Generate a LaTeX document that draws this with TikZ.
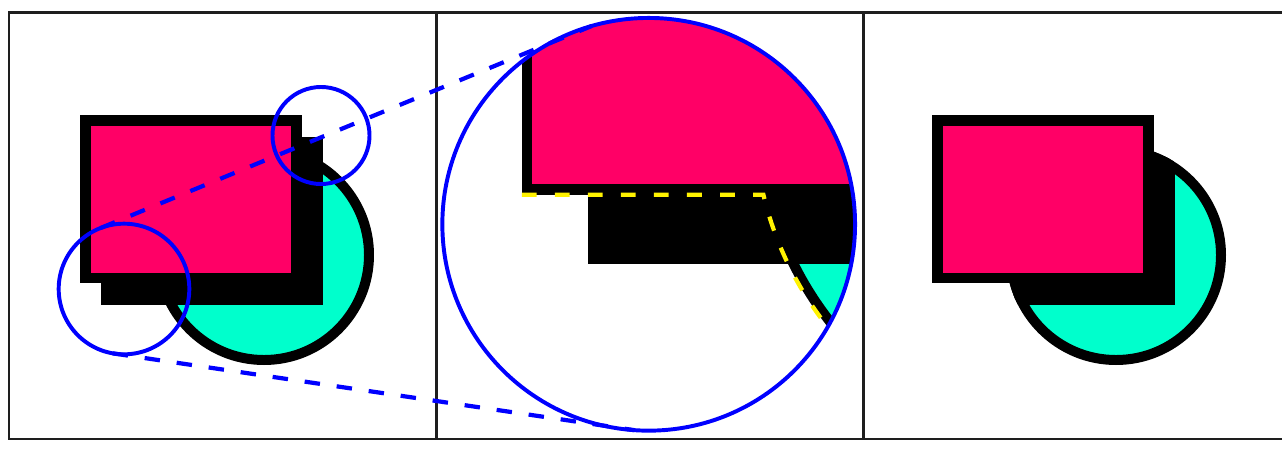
\documentclass[tikz,border=0pt]{standalone}
\usepackage{xcolor}
\definecolor{colPink}{RGB}{255,0,102}
\definecolor{colAqua}{RGB}{0,255,204}
\definecolor{colFrame}{RGB}{30,30,30}
\tikzset{
    panel/.style={draw=colFrame, line width=1.7pt},
    discfill/.style={draw=black, fill=colAqua, line width=7.1pt},
    shadowbox/.style={draw=black, fill=black, line width=7.5pt},
    squarebox/.style={draw=black, fill=colPink, line width=7.5pt},
    lensring/.style={circle, draw=blue, line width=2.8pt, inner sep=0pt, outer sep=0pt},
    linkline/.style={draw=blue, line width=3pt, dash pattern=on 11pt off 12pt},
    edgetrace/.style={draw=yellow, line width=3pt, dash pattern=on 10.5pt off 13pt}
}
\newcommand{\drawdisc}{\path[discfill] (264,255) circle[radius=105];}
\newcommand{\drawshadow}{\path[shadowbox] (106.5,142.5) rectangle (317.5,300);}
\newcommand{\drawsquare}{\path[squarebox] (85.5,120.5) rectangle (296.5,278);}

\begin{document}
\begin{tikzpicture}[x=0.025cm, y=-0.025cm]
    \useasboundingbox (0,0) rectangle (1282,449);

    \draw[panel] (9.3,12.5) rectangle (436.3,439);
    \draw[panel] (436.3,12.5) rectangle (863.3,439);
    \draw[panel] (863.3,12.5) rectangle (1290.3,439);

    % original
    \drawdisc
    \drawshadow
    \drawsquare
    \node[lensring, minimum size=3.265cm] (spotA) at (124,289) {};
    \node[lensring, minimum size=2.425cm] (spotB) at (321,135.5) {};

    % magnified
    \begin{scope}
        \clip (648.7,224.3) circle[radius=206.3];
        \begin{scope}[shift={(648.7,224.3)}, scale=3.16, shift={(-124,-289)}]
            \drawdisc
            \drawshadow
            \drawsquare
        \end{scope}
        \draw[edgetrace] (521.75,194.75) -- (763.4,194.75)
            arc[start angle=166.64, end angle=120, radius=336.8];
    \end{scope}
    \node[lensring, minimum size=10.315cm] (zoomview) at (648.7,224.3) {};

    % clipped shadow
    \begin{scope}[shift={(852,0)}]
        \drawdisc
        \begin{scope}
            \clip (264,255) circle[radius=110];
            \drawshadow
        \end{scope}
        \drawsquare
    \end{scope}

    \draw[linkline] (spotA.111) -- (zoomview.106);
    \draw[linkline] (spotA.260) -- (zoomview.266);

\end{tikzpicture}
\end{document}
